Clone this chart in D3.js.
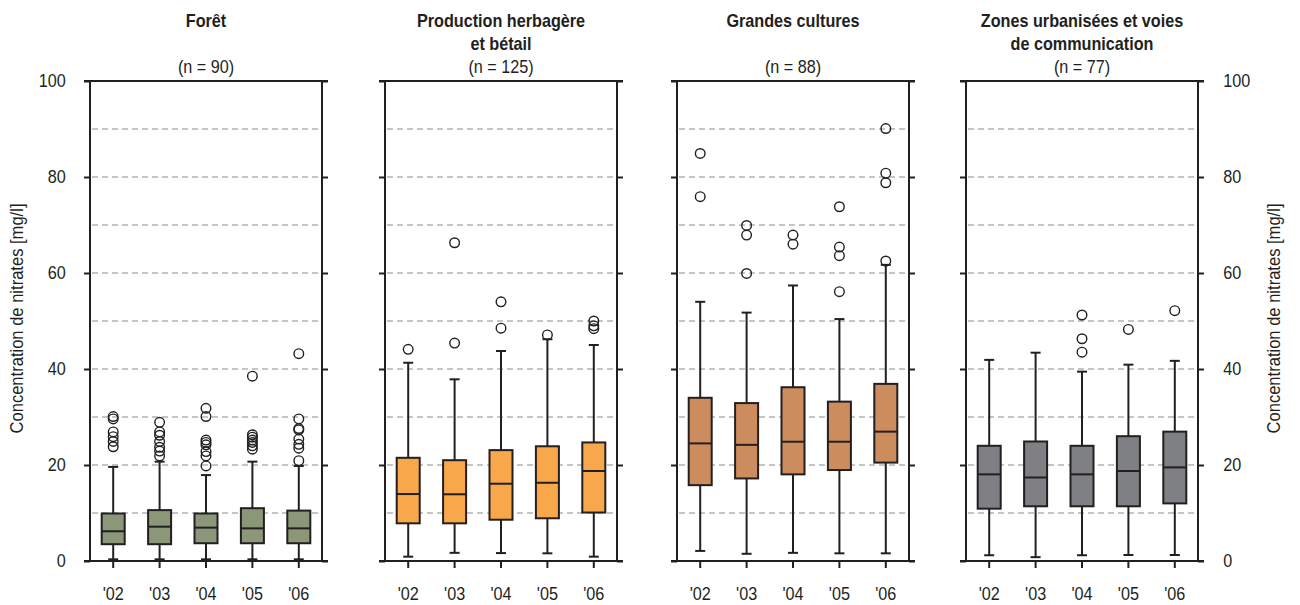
<!DOCTYPE html>
<html>
<head>
<meta charset="utf-8">
<script src="https://cdn.jsdelivr.net/npm/d3@7"></script>
<style>
  html, body { margin: 0; padding: 0; background: #fff; }
  svg { display: block; font-family: "Liberation Sans", Arial, sans-serif; }
</style>
</head>
<body>
<svg id="chart" width="1300" height="605"></svg>
<script>
// Years shown on every panel
const years = ["'02", "'03", "'04", "'05", "'06"];
const yTicks = [0, 20, 40, 60, 80, 100];
const gridValues = [10, 20, 30, 40, 50, 60, 70, 80, 90];

// Panel headings and sample sizes
const titles = [
  ["Forêt"],
  ["Production herbagère", "et bétail"],
  ["Grandes cultures"],
  ["Zones urbanisées et voies", "de communication"]
];
const counts = [90, 125, 88, 77];

// Box statistics per year: [whisker low, Q1, median, Q3, whisker high]
const foretBoxes = [
  [0.35, 3.5, 6.2, 9.9, 19.6],
  [0.35, 3.5, 7.15, 10.6, 20.7],
  [0.35, 3.7, 6.95, 9.9, 17.9],
  [0.35, 3.7, 6.8, 11.0, 20.7],
  [0.35, 3.7, 6.8, 10.5, 19.8]
];
const foretOutliers = [
  [30.1, 29.6, 26.9, 25.9, 24.9, 23.8],
  [28.9, 26.9, 26.2, 24.9, 23.7, 22.9, 21.9],
  [31.8, 30.1, 25.2, 24.7, 24.2, 22.8, 21.9, 19.8],
  [38.5, 26.3, 25.8, 25.2, 24.7, 24.0, 23.3],
  [43.2, 29.6, 27.6, 27.3, 25.4, 24.3, 23.5, 20.9]
];

const herbageBoxes = [
  [0.9, 7.85, 13.95, 21.5, 41.3],
  [1.7, 7.85, 13.9, 21.0, 37.85],
  [1.65, 8.6, 16.1, 23.1, 43.75],
  [1.6, 8.9, 16.3, 23.9, 46.2],
  [0.9, 10.1, 18.75, 24.7, 45.0]
];
const herbageOutliers = [
  [44.1],
  [66.3, 45.4],
  [54.0, 48.5],
  [47.1],
  [50.0, 49.0, 48.4]
];

const culturesBoxes = [
  [2.1, 15.8, 24.5, 34.0, 54.0],
  [1.5, 17.2, 24.2, 32.9, 51.75],
  [1.7, 18.05, 24.85, 36.2, 57.4],
  [1.6, 18.95, 24.85, 33.2, 50.4],
  [1.6, 20.5, 26.95, 36.9, 61.7]
];
const culturesOutliers = [
  [84.9, 75.9],
  [69.9, 67.9, 59.9],
  [67.9, 66.0],
  [73.8, 65.4, 63.6, 56.1],
  [90.1, 80.8, 78.8, 62.5]
];

const urbainBoxes = [
  [1.2, 10.9, 18.05, 24.0, 41.9],
  [0.8, 11.4, 17.4, 24.9, 43.4],
  [1.2, 11.4, 18.05, 24.0, 39.45],
  [1.25, 11.4, 18.75, 26.0, 40.9],
  [1.25, 12.0, 19.5, 26.95, 41.7]
];
const urbainOutliers = [
  [],
  [],
  [51.25, 46.3, 43.5],
  [48.25],
  [52.15]
];

const fills = ["#8c9679", "#f8a84b", "#cd8c5e", "#7f8084"];

const panels = [
  { boxes: foretBoxes, outliers: foretOutliers },
  { boxes: herbageBoxes, outliers: herbageOutliers },
  { boxes: culturesBoxes, outliers: culturesOutliers },
  { boxes: urbainBoxes, outliers: urbainOutliers }
];

// Layout
const ink = "#231f20";
const panelLeft = [90, 385, 677, 966];
const panelWidth = 232;
const plotTop = 81, plotBottom = 561;
const fontSize = 18, squeeze = 0.9;

const svg = d3.select("#chart");
const y = d3.scaleLinear().domain([0, 100]).range([plotBottom, plotTop]);

// Condensed text: the glyphs are narrowed horizontally around their anchor
function label(parent, x, yPos, str, opts = {}) {
  const g = parent.append("g")
    .attr("transform", `translate(${x},${yPos})` + (opts.rotate ? ` rotate(${opts.rotate})` : ""));
  g.append("text")
    .attr("transform", `scale(${opts.squeeze || squeeze},1)`)
    .attr("text-anchor", opts.anchor || "middle")
    .attr("font-size", fontSize)
    .attr("font-weight", opts.bold ? "bold" : "normal")
    .attr("fill", ink)
    .text(str);
  return g;
}

function squeezeAxisText(g) {
  g.selectAll("text")
    .attr("font-size", fontSize)
    .attr("font-family", null)
    .attr("fill", ink)
    .attr("transform", `scale(${squeeze},1)`);
  g.selectAll("line").attr("stroke", ink).attr("stroke-width", 2);
  g.select(".domain").remove();
}

panels.forEach((p, i) => {
  const x0 = panelLeft[i], x1 = x0 + panelWidth;
  const cx = (x0 + x1) / 2;
  const g = svg.append("g");

  const x = d3.scaleBand().domain(years).range([x0, x1]).padding(0);
  const bw = 23, cap = 10;

  // Dashed grid
  g.append("g").selectAll("line").data(gridValues).join("line")
    .attr("x1", x0 + 2).attr("x2", x1 - 2)
    .attr("y1", d => y(d)).attr("y2", d => y(d))
    .attr("stroke", "#b3b3b3").attr("stroke-width", 1.3)
    .attr("stroke-dasharray", "6,4");

  // Titles
  label(g, cx, 26.5, titles[i][0], { bold: true });
  if (titles[i][1]) label(g, cx, 49.5, titles[i][1], { bold: true });
  label(g, cx, 72.5, `(n = ${counts[i]})`);

  // Boxes
  const boxes = p.boxes.map((b, j) => ({ year: years[j], lo: b[0], q1: b[1], med: b[2], q3: b[3], hi: b[4] }));
  const bg = g.append("g").selectAll("g").data(boxes).join("g")
    .attr("transform", d => `translate(${x(d.year) + x.bandwidth() / 2},0)`);

  bg.append("line")
    .attr("y1", d => y(d.lo)).attr("y2", d => y(d.hi))
    .attr("stroke", ink).attr("stroke-width", 2);
  bg.append("line")
    .attr("x1", -cap / 2).attr("x2", cap / 2)
    .attr("y1", d => y(d.hi)).attr("y2", d => y(d.hi))
    .attr("stroke", ink).attr("stroke-width", 2);
  bg.append("line")
    .attr("x1", -cap / 2).attr("x2", cap / 2)
    .attr("y1", d => y(d.lo)).attr("y2", d => y(d.lo))
    .attr("stroke", ink).attr("stroke-width", 2);
  bg.append("rect")
    .attr("x", -bw / 2).attr("width", bw)
    .attr("y", d => y(d.q3)).attr("height", d => y(d.q1) - y(d.q3))
    .attr("fill", fills[i]).attr("stroke", ink).attr("stroke-width", 2);
  bg.append("line")
    .attr("x1", -bw / 2).attr("x2", bw / 2)
    .attr("y1", d => y(d.med)).attr("y2", d => y(d.med))
    .attr("stroke", ink).attr("stroke-width", 2);

  // Outliers
  const pts = [];
  p.outliers.forEach((arr, j) => arr.forEach(v => pts.push({ year: years[j], v })));
  g.append("g").selectAll("circle").data(pts).join("circle")
    .attr("cx", d => x(d.year) + x.bandwidth() / 2)
    .attr("cy", d => y(d.v))
    .attr("r", 4.8)
    .attr("fill", "none").attr("stroke", ink).attr("stroke-width", 1.4);

  // Frame
  const frame = g.append("g").attr("stroke", ink).attr("stroke-width", 2);
  frame.append("line").attr("x1", x0 - 6).attr("x2", x1 + 6).attr("y1", plotTop).attr("y2", plotTop);
  frame.append("line").attr("x1", x0 - 6).attr("x2", x1 + 6).attr("y1", plotBottom).attr("y2", plotBottom);
  frame.append("line").attr("x1", x0).attr("x2", x0).attr("y1", plotTop).attr("y2", plotBottom);
  frame.append("line").attr("x1", x1).attr("x2", x1).attr("y1", plotTop).attr("y2", plotBottom);

  // Y ticks on both sides; labels on the outer sides only
  const left = d3.axisLeft(y).tickValues(yTicks).tickSize(6).tickPadding(21)
    .tickFormat(i === 0 ? d3.format("d") : () => "");
  g.append("g").attr("transform", `translate(${x0},0)`).call(left).call(squeezeAxisText);
  const right = d3.axisRight(y).tickValues(yTicks).tickSize(6).tickPadding(22)
    .tickFormat(i === 3 ? d3.format("d") : () => "");
  g.append("g").attr("transform", `translate(${x1},0)`).call(right).call(squeezeAxisText);

  // Year axis
  const bottomAxis = d3.axisBottom(x).tickSize(7).tickPadding(19).tickSizeOuter(0);
  g.append("g").attr("transform", `translate(0,${plotBottom})`).call(bottomAxis).call(squeezeAxisText);
});

// Vertical axis titles
const yTitle = "Concentration de nitrates [mg/l]";
label(svg, 23, 318.5, yTitle, { rotate: -90, squeeze: 0.92 });
label(svg, 1280, 318.5, yTitle, { rotate: -90, squeeze: 0.92 });
</script>
</body>
</html>
